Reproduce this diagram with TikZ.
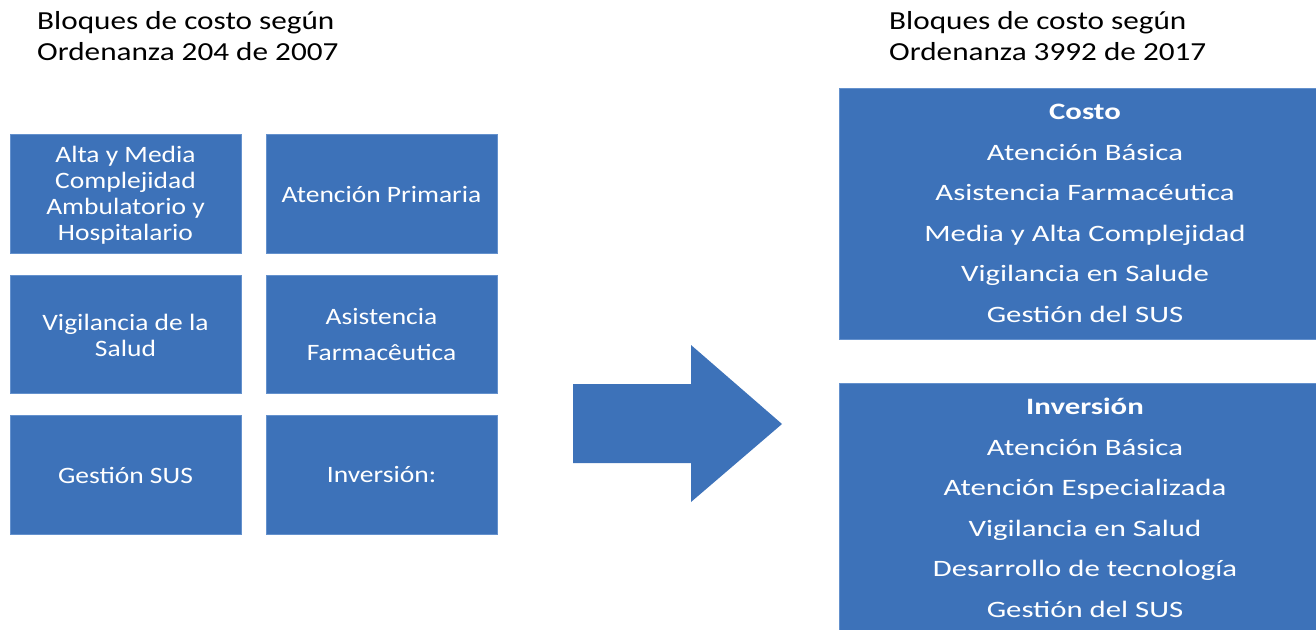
\documentclass[tikz,border=0pt]{standalone}
\usepackage{fontspec}
\setmainfont{Carlito}
\newfontfamily\ttlfont[FakeStretch=1.20]{Carlito}
\newfontfamily\lftfont[FakeStretch=1.17]{Carlito}
\newfontfamily\rgtfont[FakeStretch=1.31]{Carlito}
\definecolor{boxblue}{RGB}{61,114,185}
\definecolor{boxedge}{RGB}{100,145,205}
\begin{document}
\begin{tikzpicture}[x=1pt,y=-1pt,
  blkfill/.style={fill=boxblue,draw=boxedge,line width=0.6pt},
  blk/.style={text=white,align=center,inner sep=0pt,
    font=\lftfont\fontsize{23.5}{26}\selectfont},
  bigblk/.style={text=white,align=center,inner sep=0pt,
    font=\rgtfont\fontsize{23.5}{40.5}\selectfont},
  ttl/.style={anchor=base west,inner sep=0pt,font=\ttlfont\fontsize{26}{28}\selectfont}]
\useasboundingbox (0,0) rectangle (1316,629);
% titles
\node[ttl] (t1a) at (37,29.5) {Bloques de costo según};
\node[ttl] (t1b) at (37,60) {Ordenanza 204 de 2007};
\node[ttl] (t2a) at (889,29.5) {Bloques de costo según};
\node[ttl] (t2b) at (889,60) {Ordenanza 3992 de 2017};
% left boxes
\path[blkfill] (10,134) rectangle (241,253);
\node[blk] (b1) at (125.5,195) {Alta y Media\\Complejidad\\Ambulatorio y\\Hospitalario};
\path[blkfill] (266,134) rectangle (497,253);
\node[blk] (b2) at (381.5,194.5) {Atención Primaria};
\path[blkfill] (10,275) rectangle (241,393);
\node[blk] (b3) at (125.5,335) {Vigilancia de la\\Salud};
\path[blkfill] (266,275) rectangle (497,393);
\node[blk,font=\lftfont\fontsize{23.5}{36}\selectfont] (b4) at (381.5,334) {Asistencia\\Farmacêutica};
\path[blkfill] (10,415) rectangle (241,534);
\node[blk] (b5) at (125.5,475) {Gestión SUS};
\path[blkfill] (266,415) rectangle (497,534);
\node[blk] (b6) at (381.5,475) {Inversión:};
% arrow
\fill[boxblue] (573,384) -- (691,384) -- (691,345) -- (782,424) -- (691,502) -- (691,463) -- (573,463) -- cycle;
% right boxes
\path[blkfill] (839,88) rectangle (1331,339);
\node[bigblk] (c1) at (1085,213.5) {\textbf{Costo}\\Atención Básica\\Asistencia Farmacéutica\\Media y Alta Complejidad\\Vigilancia en Salude\\Gestión del SUS};
\path[blkfill] (839,383) rectangle (1331,640);
\node[bigblk] (c2) at (1085,508) {\textbf{Inversión}\\Atención Básica\\Atención Especializada\\Vigilancia en Salud\\Desarrollo de tecnología\\Gestión del SUS};
\end{tikzpicture}
\end{document}
